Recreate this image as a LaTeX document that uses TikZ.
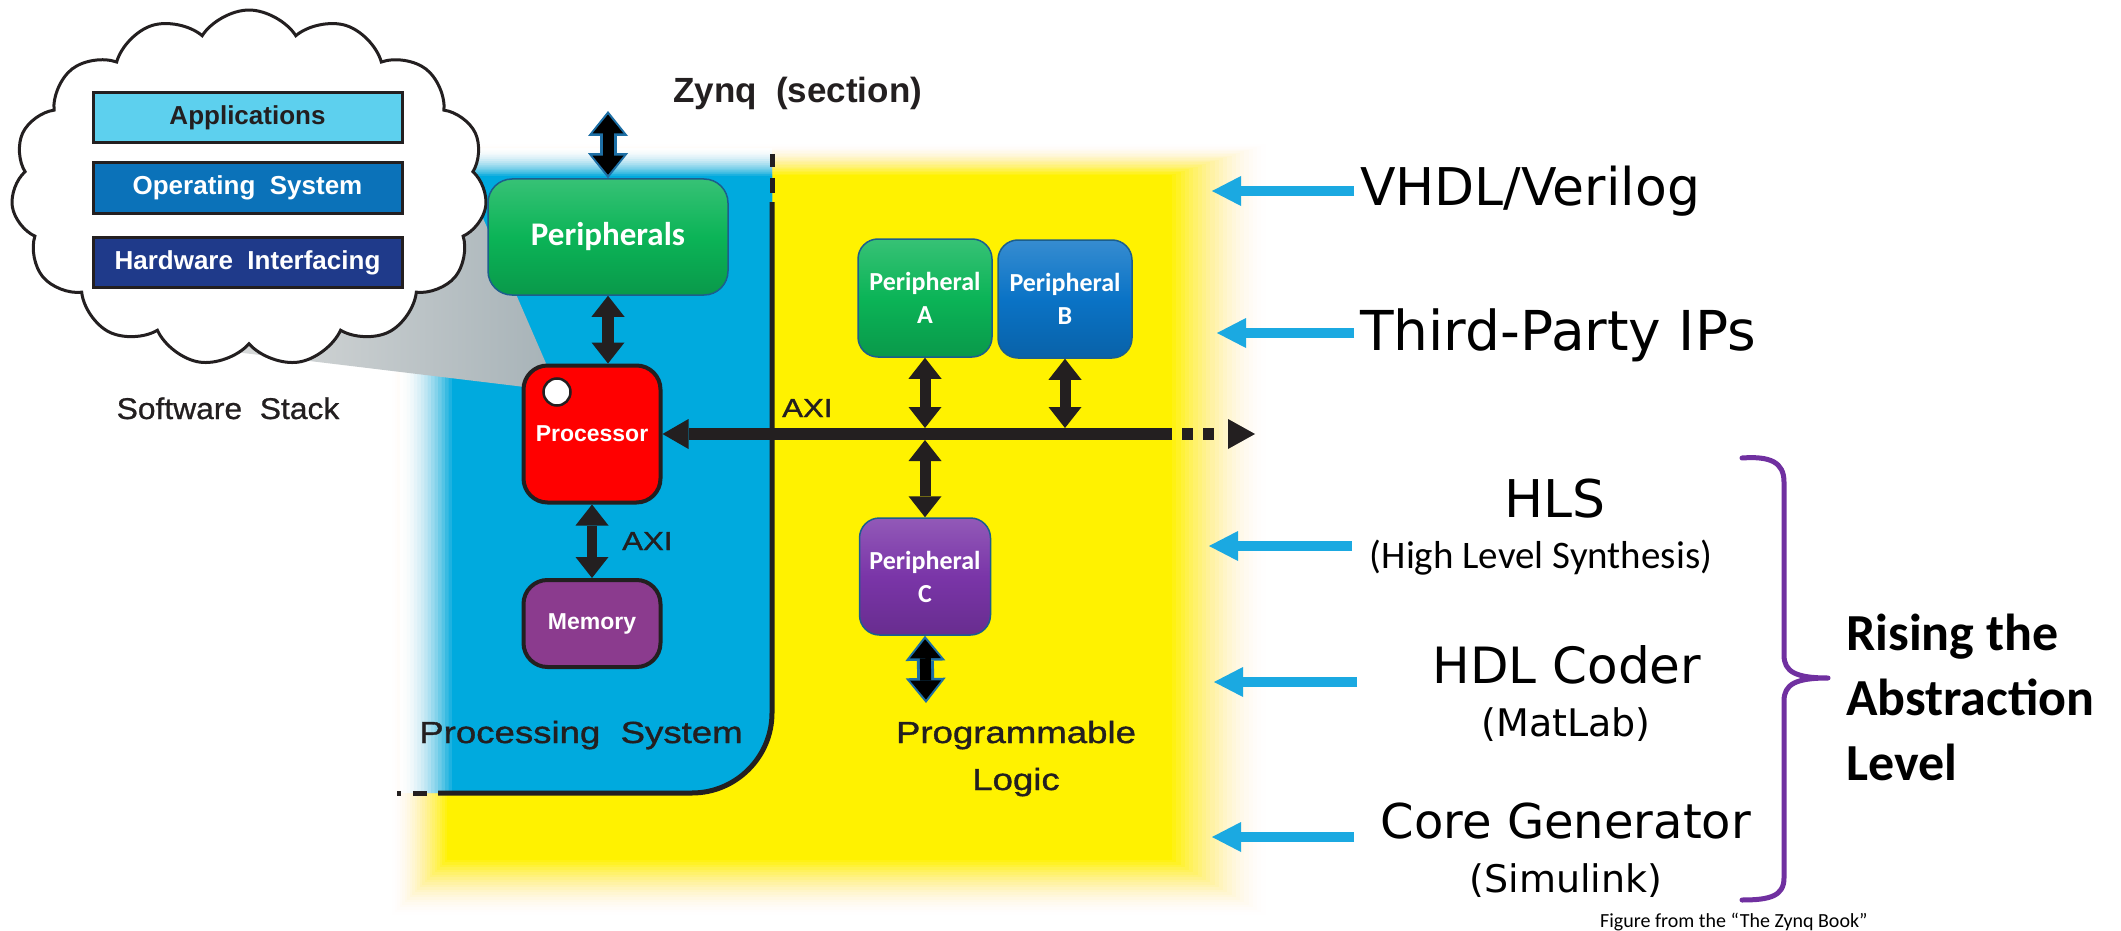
\documentclass[tikz,border=0pt]{standalone}
\usepackage{fontspec}
\setmainfont{Liberation Sans}
\newfontfamily\arw[FakeStretch=1.2,FakeBold=1.2]{Liberation Sans}
\newfontfamily\swf[FakeStretch=1.06,FakeBold=0.8]{Liberation Sans}
\newfontfamily\calf{Carlito}
\newfontfamily\cmcf{DejaVu Sans}
\usetikzlibrary{arrows.meta,shapes.symbols,calc}
\newcommand\fsz[2]{\fontsize{#1}{#2}\selectfont}
\definecolor{psblue}{HTML}{00AADE}
\definecolor{plyel}{HTML}{FFF200}
\definecolor{larr}{HTML}{1BA9E1}
\definecolor{brc}{HTML}{7030A0}
\definecolor{pgreen}{HTML}{0BB457}
\definecolor{pblue}{HTML}{0A73C6}
\definecolor{ppurp}{HTML}{7A35A8}
\definecolor{memp}{HTML}{8B3B8E}
\definecolor{appc}{HTML}{5DD0EE}
\definecolor{osc}{HTML}{0B72B9}
\definecolor{hwc}{HTML}{1F3A8A}
\definecolor{ink}{HTML}{231F20}
\definecolor{edgeb}{HTML}{1C5E8C}
\definecolor{edgeb2}{HTML}{1D6FA5}
\definecolor{conel}{HTML}{D8DADA}
\definecolor{coner}{HTML}{A6B2B7}
\begin{document}
\begin{tikzpicture}[x=1pt,y=-1pt,
  stackbox/.style={draw=ink, line width=3pt, minimum width=309pt, minimum height=50pt, inner sep=0pt, font=\bfseries\fsz{26}{30}},
  glossy/.style={rounded corners=20pt, draw=edgeb, line width=1.5pt, top color=#1!82!white, bottom color=#1!85!black, middle color=#1, text=white, font=\calf\bfseries\fsz{26}{33}, align=center, inner sep=0pt, minimum width=134pt, minimum height=118pt},
  solidbox/.style={rounded corners=24pt, draw=ink, line width=4pt, text=white, font=\bfseries\fsz{23}{28}, inner sep=0pt, minimum width=137pt},
  blkarrow/.style={draw=ink, line width=12pt, {Triangle[width=33pt,length=21pt,line width=0pt]}-{Triangle[width=33pt,length=21pt,line width=0pt]}},
  outarr/.style={draw=edgeb2, line width=17pt, {Triangle[width=40pt,length=25pt,line width=0pt]}-{Triangle[width=40pt,length=25pt,line width=0pt]}},
  inarr/.style={draw=black, line width=11pt, shorten <=3.5pt, shorten >=3.5pt, {Triangle[width=31pt,length=19pt,line width=0pt]}-{Triangle[width=31pt,length=19pt,line width=0pt]}},
  lightarrow/.style={draw=larr, line width=10pt, -{Triangle[width=30pt,length=29pt,line width=0pt]}},
  lbl/.style={inner sep=0pt, text=ink},
  rtext/.style={inner sep=0pt, text=black},
]
\fill[white] (0,0) rectangle (2121,931);
\useasboundingbox (0,0) rectangle (2121,931);

% programmable logic (yellow, blurred edges)
\foreach \i in {0,...,23} {
  \pgfmathsetmacro\op{(2*\i+1)/(576-\i*\i)}
  \fill[plyel, opacity=\op] ({390+\i*57/23},{143+\i*32/23}) rectangle ({1270-\i*98/23},{917-\i*57/23});
}

% processing system (blue, blurred left/top)
\fill[white] (400,148) -- (772,148) -- (772,713) .. controls (772,757) and (736,793) .. (692,793) -- (400,793) -- cycle;
\foreach \i in {0,...,15} {
  \pgfmathsetmacro\op{(2*\i+1)/(256-\i*\i)}
  \fill[psblue, opacity=\op] ({400+\i*52/15},{148+\i*28/15}) -- (772,{148+\i*28/15}) -- (772,713)
     .. controls (772,757) and (736,793) .. (692,793) -- ({400+\i*52/15},793) -- cycle;
}

% cone from the cloud to the processor
\shade[left color=conel, right color=coner] (558,391) -- (440,119) -- (260,300) -- (235,352) -- cycle;

% cloud with software stack
\node[cloud, cloud puffs=15, cloud puff arc=115, cloud ignores aspect, draw=ink, line width=3pt, fill=white,
      minimum width=476pt, minimum height=356pt, inner sep=0pt] (cloud) at (249,188) {};
\node[stackbox, fill=appc, text=ink] (app) at (247.5,118) {Applications};
\node[stackbox, fill=osc, text=white] (os) at (247.5,188) {Operating\ \ System};
\node[stackbox, fill=hwc, text=white] (hw) at (247.5,262.5) {Hardware\ \ Interfacing};
\node[lbl, font=\swf\fsz{30}{36}, anchor=base] (sws) at (228,419) {Software\ \ Stack};

% boundary line between PS and PL
\draw[draw=ink, line width=5pt] (772,202) -- (772,713) .. controls (772,757) and (736,793) .. (692,793) -- (438,793);
\draw[draw=ink, line width=5pt] (772,154) -- (772,167);
\draw[draw=ink, line width=5pt] (772,178) -- (772,193);
\draw[draw=ink, line width=5pt] (397,793) -- (401,793);
\draw[draw=ink, line width=5pt] (413,793) -- (427,793);

% title
\node[lbl, font=\bfseries\fsz{35}{40}, anchor=base west] (zynq) at (673,103) {Zynq\ \ (section)};

% blocks
\node[glossy=pgreen, minimum width=240pt, minimum height=116pt, rounded corners=24pt, font=\calf\bfseries\fsz{33}{40}] (per) at (608,237) {Peripherals};
\node[solidbox, fill=red, minimum height=137pt] (proc) at (592,434) {Processor};
\node[solidbox, fill=memp, minimum height=87pt] (mem) at (592,623.5) {Memory};
\node[glossy=pgreen] (pa) at (925,298) {Peripheral\\A};
\node[glossy=pblue] (pb) at (1065,299) {Peripheral\\B};
\node[glossy=ppurp, minimum width=131pt, minimum height=117pt] (pc) at (925,576.5) {Peripheral\\C};

% white marker on the processor
\node[circle, fill=white, draw=ink, line width=2.5pt, minimum size=27pt, inner sep=0pt] (dot) at (557,392) {};

% connectors
\coordinate (topend) at (608,111);
\draw[outarr] (topend) -- (per.north);
\draw[inarr] (topend) -- (per.north);
\draw[blkarrow] (per.south) -- (per.south |- proc.north);
\draw[blkarrow, line width=10pt] (proc.south) -- (mem.north);
\node[lbl, font=\arw\fsz{26}{30}, anchor=base west] (axim) at (622,550) {AXI};

\coordinate (busmid) at (1172,434);
\coordinate (busend) at (1255,434);
\draw[draw=ink, line width=12pt, -{Triangle[width=30pt,length=26pt,line width=0pt]}] (busmid) -- (proc.east);
\draw[draw=ink, line width=12pt, dash pattern=on 0pt off 10pt on 11pt off 10pt on 11pt off 30pt,
      -{Triangle[width=30pt,length=27pt,line width=0pt]}] (busmid) -- (busend);
\node[lbl, font=\arw\fsz{26}{30}, anchor=base west] (axib) at (782,417) {AXI};

\coordinate (ja) at (925,428);
\coordinate (jb) at (1065,428);
\coordinate (jc) at (925,440);
\draw[blkarrow, line width=11pt] (pa.south) -- (ja);
\draw[blkarrow, line width=11pt] (pb.south) -- (jb);
\draw[blkarrow, line width=11pt] (jc) -- (pc.north);
\coordinate (cend) at (926,703);
\draw[outarr] (pc.south) -- (cend);
\draw[inarr] (pc.south) -- (cend);

% region labels
\node[lbl, font=\arw\fsz{30.5}{36}, anchor=base] (psl) at (581,743) {Processing\ \ System};
\node[lbl, font=\arw\fsz{30.5}{36}, anchor=base] (pll1) at (1016,743) {Programmable};
\node[lbl, font=\arw\fsz{30.5}{36}, anchor=base] (pll2) at (1016,790) {Logic};

% right side: design entry levels
\node[rtext, font=\cmcf\fsz{52}{60}, anchor=base west] (vhdl) at (1360,205) {VHDL/Verilog};
\node[rtext, font=\cmcf\fsz{55}{62}, anchor=base west] (tpi) at (1360,350) {Third-Party IPs};
\node[rtext, font=\cmcf\fsz{52}{60}, anchor=base] (hls) at (1555,517) {HLS};
\node[rtext, font=\calf\fsz{39}{46}, anchor=base] (hlss) at (1541,568) {(High Level Synthesis)};
\node[rtext, font=\cmcf\fsz{50}{58}, anchor=base] (hdl) at (1567,683) {HDL Coder};
\node[rtext, font=\cmcf\fsz{38}{44}, anchor=base] (hdls) at (1566,736) {(MatLab)};
\node[rtext, font=\cmcf\fsz{48}{56}, anchor=base] (core) at (1566,838) {Core Generator};
\node[rtext, font=\cmcf\fsz{38}{44}, anchor=base] (cores) at (1566,892) {(Simulink)};

\coordinate (v1) at (1212,191);
\coordinate (t1) at (1217,333);
\draw[lightarrow, shorten <=6pt] (vhdl.west |- v1) -- (v1);
\draw[lightarrow, shorten <=6pt] (tpi.west |- t1) -- (t1);
\coordinate (h0) at (1352,546);
\coordinate (h1) at (1209,546);
\coordinate (d0) at (1357,682);
\coordinate (d1) at (1214,682);
\coordinate (c0) at (1354,837);
\coordinate (c1) at (1212,837);
\draw[lightarrow] (h0) -- (h1);
\draw[lightarrow] (d0) -- (d1);
\draw[lightarrow] (c0) -- (c1);

% brace
\draw[draw=brc, line width=5pt, line cap=round, line join=round]
  (1742,458) .. controls (1770,456) and (1784,462) .. (1784,482) -- (1784,655)
  .. controls (1784,672) and (1796,678) .. (1828,678)
  .. controls (1796,678) and (1784,684) .. (1784,701) -- (1784,878)
  .. controls (1784,896) and (1770,900) .. (1742,900);

\node[rtext, font=\calf\bfseries\fsz{52}{62}, anchor=base west] (r1) at (1846,650) {Rising the};
\node[rtext, font=\calf\bfseries\fsz{52}{62}, anchor=base west] (r2) at (1846,715) {Abstraction};
\node[rtext, font=\calf\bfseries\fsz{52}{62}, anchor=base west] (r3) at (1846,780) {Level};

\node[rtext, font=\calf\fsz{20}{24}, anchor=base west] (capt) at (1600,927) {Figure from the “The Zynq Book”};
\end{tikzpicture}
\end{document}
